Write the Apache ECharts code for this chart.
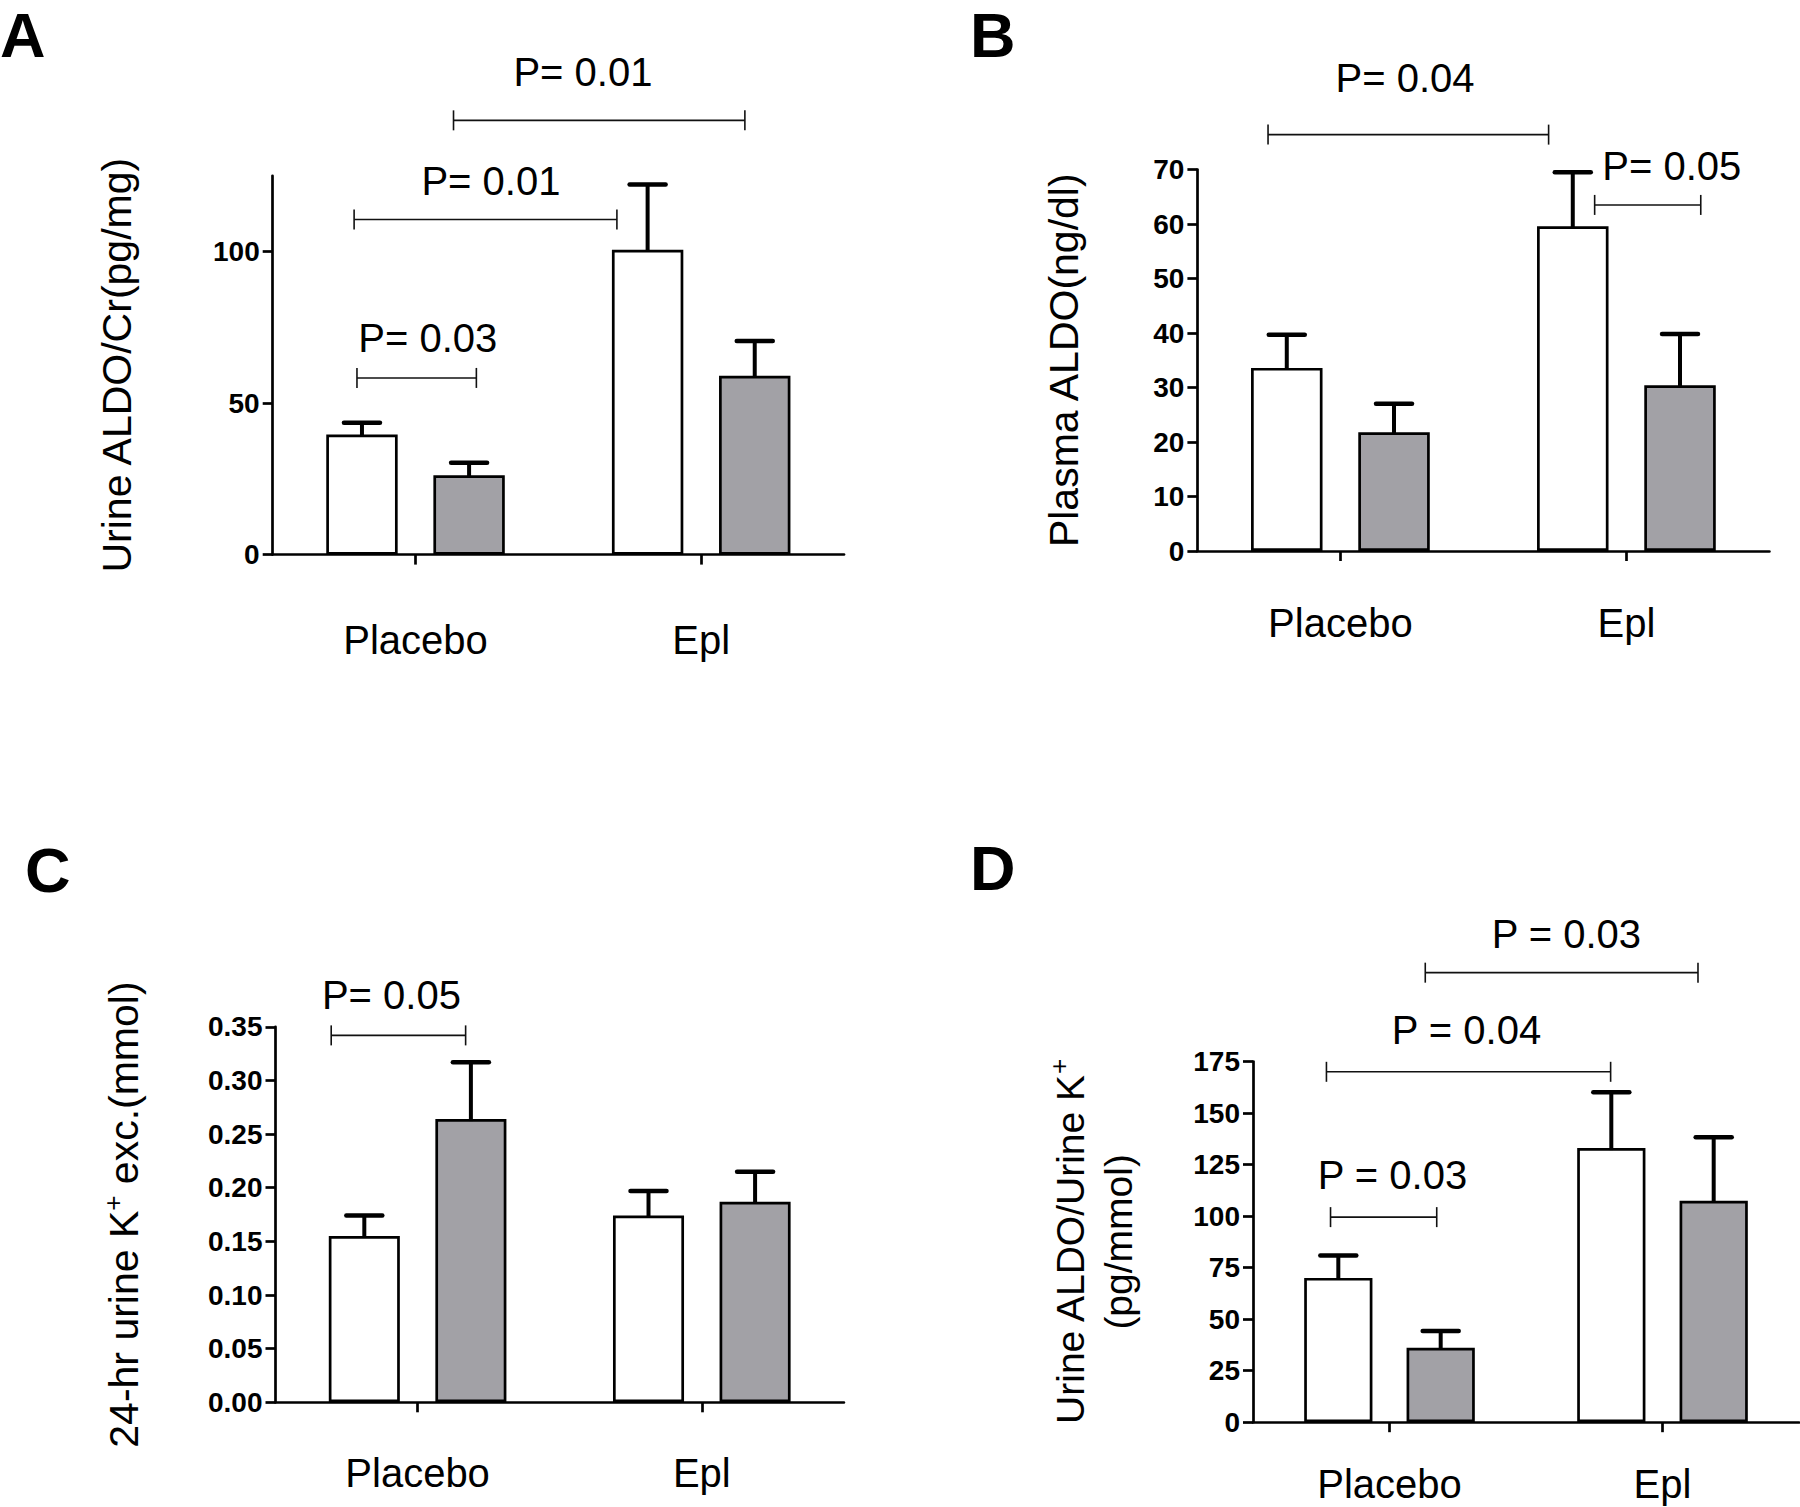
<!DOCTYPE html>
<html>
<head>
<meta charset="utf-8">
<script src="https://cdn.jsdelivr.net/npm/echarts@6/dist/echarts.min.js"></script>
<style>
html,body{margin:0;padding:0;background:#fff;}
#chart{width:1800px;height:1507px;}
</style>
</head>
<body>
<div id="chart"></div>
<script>
// ---------- data ----------
const categories = ['Placebo', 'Epl'];

// Panel A: Urine ALDO/Cr (pg/mg)
const aWhite = [39.6, 100.6];
const aWhiteSem = [3.9, 21.5];
const aGrey = [26.2, 59.0];
const aGreySem = [4.1, 11.5];
const aTicks = [0, 50, 100];
// [x1, x2, y, label, textX, textY]  (x in category units, y in data units)
const aBrackets = [
  [-0.205, 0.213, 58.3, 'P= 0.03', 0.043, 71.5],
  [-0.215, 0.705, 110.6, 'P= 0.01', 0.264, 123.2],
  [0.133, 1.153, 143.3, 'P= 0.01', 0.586, 159.3]
];

// Panel B: Plasma ALDO (ng/dl)
const bWhite = [33.6, 59.6];
const bWhiteSem = [6.1, 9.9];
const bGrey = [21.8, 30.4];
const bGreySem = [5.2, 9.4];
const bTicks = [0, 10, 20, 30, 40, 50, 60, 70];
const bBrackets = [
  [-0.253, 0.728, 76.4, 'P= 0.04', 0.226, 86.7],
  [0.889, 1.260, 63.5, 'P= 0.05', 1.159, 70.7]
];

// Panel C: 24-hr urine K+ excretion (mmol)
const cWhite = [0.155, 0.174];
const cWhiteSem = [0.019, 0.023];
const cGrey = [0.264, 0.187];
const cGreySem = [0.053, 0.028];
const cTicks = [0, 0.05, 0.10, 0.15, 0.20, 0.25, 0.30, 0.35];
const cBrackets = [
  [-0.304, 0.169, 0.342, 'P= 0.05', -0.092, 0.380]
];

// Panel D: Urine ALDO/Urine K+ (pg/mmol)
const dWhite = [70.0, 133.0];
const dWhiteSem = [10.9, 27.1];
const dGrey = [36.1, 107.4];
const dGreySem = [8.1, 30.9];
const dTicks = [0, 25, 50, 75, 100, 125, 150, 175];
const dBrackets = [
  [-0.216, 0.173, 99.5, 'P = 0.03', 0.011, 119.7],
  [-0.231, 0.810, 170.0, 'P = 0.04', 0.282, 190.3],
  [0.131, 1.130, 218.1, 'P = 0.03', 0.648, 236.9]
];

const panelLetters = ['A', 'B', 'C', 'D'];

// ---------- layout / style ----------
const FONT = "'Liberation Sans', Arial, Helvetica, sans-serif";
const GREY = '#a2a1a6';
const LW = 2.7;

const panels = [
  { grid: {left: 272.7, top: 175.8, width: 571.3, height: 378.8}, max: 125, ticks: aTicks, dec: 0,
    white: aWhite, whiteSem: aWhiteSem, grey: aGrey, greySem: aGreySem, brackets: aBrackets,
    name: 'Urine ALDO/Cr(pg/mg)', nameGap: 135, rich: null, catMargin: 70 },
  { grid: {left: 1197.4, top: 169.5, width: 572, height: 381.5}, max: 70, ticks: bTicks, dec: 0,
    white: bWhite, whiteSem: bWhiteSem, grey: bGrey, greySem: bGreySem, brackets: bBrackets,
    name: 'Plasma ALDO(ng/dl)', nameGap: 113, rich: null, catMargin: 57 },
  { grid: {left: 275.5, top: 1026.8, width: 568.4, height: 375.5}, max: 0.35, ticks: cTicks, dec: 2,
    white: cWhite, whiteSem: cWhiteSem, grey: cGrey, greySem: cGreySem, brackets: cBrackets,
    name: '{t|24-hr urine K}{s|+}{t| exc.(mmol)}', nameGap: 128, rich: true, catMargin: 56 },
  { grid: {left: 1253, top: 1061.5, width: 546, height: 360.7}, max: 175, ticks: dTicks, dec: 0,
    white: dWhite, whiteSem: dWhiteSem, grey: dGrey, greySem: dGreySem, brackets: dBrackets,
    name: '{t|Urine ALDO/Urine K}{s|+}\n{t|(pg/mmol)}', nameGap: 111, rich: true, catMargin: 47 }
];

function errRender(params, api) {
  const c = api.value(0), m = api.value(1), s = api.value(2), side = api.value(3);
  const band = api.size([1, 0])[0];
  const off = side * band * 0.1875;
  const b = api.coord([c, m]);
  const t = api.coord([c, m + s]);
  const x = b[0] + off;
  const half = 18;
  return {
    type: 'group',
    children: [
      {type: 'line', shape: {x1: x, y1: b[1] + 2, x2: x, y2: t[1]}, style: {stroke: '#000', lineWidth: 4}},
      {type: 'line', shape: {x1: x - half, y1: t[1], x2: x + half, y2: t[1]}, style: {stroke: '#000', lineWidth: 4.5, lineCap: 'round'}}
    ]
  };
}

function makeBracketRender(list) {
  return function (params, api) {
    const item = list[params.dataIndex];
    const p1 = api.coord([item[0], item[2]]);
    const p2 = api.coord([item[1], item[2]]);
    const tp = api.coord([item[4], item[5]]);
    const st = {stroke: '#111', lineWidth: 1.6};
    return {
      type: 'group',
      children: [
        {type: 'line', shape: {x1: p1[0], y1: p1[1], x2: p2[0], y2: p2[1]}, style: st},
        {type: 'line', shape: {x1: p1[0], y1: p1[1] - 10, x2: p1[0], y2: p1[1] + 10}, style: st},
        {type: 'line', shape: {x1: p2[0], y1: p2[1] - 10, x2: p2[0], y2: p2[1] + 10}, style: st},
        {type: 'text', style: {text: item[3], x: tp[0], y: tp[1], fill: '#000',
          font: '40px ' + FONT, align: 'center', verticalAlign: 'middle'}}
      ]
    };
  };
}

const option = {
  animation: false,
  backgroundColor: '#fff',
  textStyle: {fontFamily: FONT},
  grid: [], xAxis: [], yAxis: [], series: [],
  graphic: [
    {type: 'text', left: 0, top: 3, style: {text: panelLetters[0], font: 'bold 63px ' + FONT, fill: '#000'}},
    {type: 'text', left: 970, top: 3, style: {text: panelLetters[1], font: 'bold 63px ' + FONT, fill: '#000'}},
    {type: 'text', left: 25, top: 838, style: {text: panelLetters[2], font: 'bold 63px ' + FONT, fill: '#000'}},
    {type: 'text', left: 970, top: 836, style: {text: panelLetters[3], font: 'bold 63px ' + FONT, fill: '#000'}}
  ]
};

const axisLineStyle = {color: '#000', width: LW};

panels.forEach(function (p, i) {
  option.grid.push(Object.assign({containLabel: false}, p.grid));
  option.xAxis.push({
    type: 'category', gridIndex: i, data: categories,
    axisLine: {show: true, onZero: false, lineStyle: axisLineStyle},
    axisTick: {show: true, alignWithLabel: true, length: 10, lineStyle: axisLineStyle},
    axisLabel: {color: '#000', fontSize: 40, fontFamily: FONT, margin: p.catMargin, lineHeight: 30},
    splitLine: {show: false}
  });
  option.xAxis.push({type: 'value', gridIndex: i, min: -0.5, max: 1.5, show: false});
  const nameStyle = {color: '#000', fontSize: 41, fontFamily: FONT};
  if (p.rich) {
    nameStyle.rich = {
      t: {fontSize: i === 3 ? 39 : 41, fontFamily: FONT, color: '#000', lineHeight: 48},
      s: {fontSize: 26, fontFamily: FONT, color: '#000', verticalAlign: 'top', lineHeight: 26}
    };
  }
  option.yAxis.push({
    type: 'value', gridIndex: i, min: 0, max: p.max,
    name: p.name, nameLocation: 'middle', nameGap: p.nameGap, nameTextStyle: nameStyle,
    axisLine: {show: true, onZero: false, lineStyle: axisLineStyle},
    axisTick: {show: true, inside: false, length: 10, customValues: p.ticks, lineStyle: axisLineStyle},
    axisLabel: {customValues: p.ticks, color: '#000', fontWeight: 'bold', fontSize: 28, fontFamily: FONT,
      margin: 13, formatter: function (v) { return Number(v).toFixed(p.dec); }},
    splitLine: {show: false}
  });
  option.series.push({
    type: 'bar', xAxisIndex: 2 * i, yAxisIndex: i, data: p.white,
    barWidth: '25%', barGap: '50%',
    itemStyle: {color: '#fff', borderColor: '#000', borderWidth: LW}
  });
  option.series.push({
    type: 'bar', xAxisIndex: 2 * i, yAxisIndex: i, data: p.grey,
    barWidth: '25%', barGap: '50%',
    itemStyle: {color: GREY, borderColor: '#000', borderWidth: LW}
  });
  const errData = [];
  p.white.forEach(function (v, k) { errData.push([k, v, p.whiteSem[k], -1]); });
  p.grey.forEach(function (v, k) { errData.push([k, v, p.greySem[k], 1]); });
  option.series.push({
    type: 'custom', xAxisIndex: 2 * i, yAxisIndex: i, data: errData, z: 5,
    renderItem: errRender, silent: true
  });
  option.series.push({
    type: 'custom', xAxisIndex: 2 * i + 1, yAxisIndex: i,
    data: p.brackets.map(function (b) { return [b[0], b[1], b[2], b[4], b[5]]; }),
    renderItem: makeBracketRender(p.brackets), silent: true, z: 6
  });
});

const chart = echarts.init(document.getElementById('chart'), null, {renderer: 'svg'});
chart.setOption(option);
</script>
</body>
</html>
